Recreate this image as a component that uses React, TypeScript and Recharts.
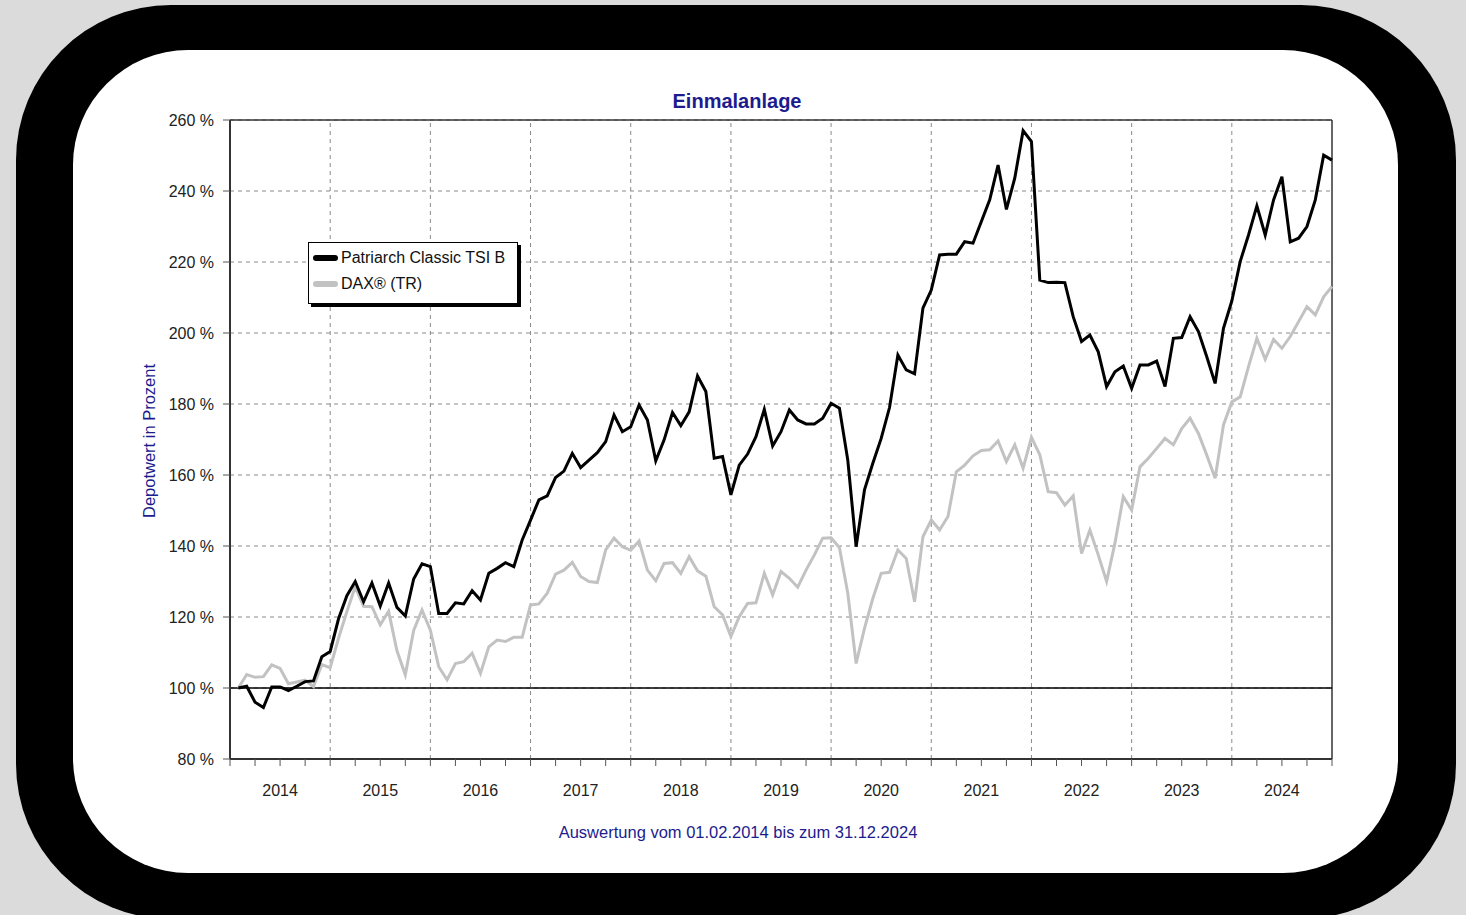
import { LineChart, Line, XAxis, YAxis, CartesianGrid, ReferenceLine } from 'recharts';

// monthly values, Feb 2014 .. Jan 2025 (end of Dec 2024), in % of start
const patriarch = [
  100, 100.5, 96, 94.5, 100.3, 100.3, 99.3, 100.5, 101.8, 102, 108.8, 110.3,
  119.5, 126, 130, 124.3, 129.6, 123.1, 129.6, 122.7, 120.3, 130.7, 135, 134.2,
  121, 121, 124, 123.7, 127.4, 124.8, 132.3, 133.7, 135.3, 134.2, 141.7, 147.3,
  153, 154.1, 159.3, 161.1, 166.1, 162.1, 164.2, 166.3, 169.4, 176.9, 172.2, 173.6,
  179.7, 175.5, 164, 169.9, 177.6, 173.9, 177.8, 187.9, 183.5, 164.7, 165.2, 154.4,
  162.8, 165.9, 170.8, 178.5, 168.2, 172.2, 178.3, 175.5, 174.4, 174.4, 176, 180.2,
  178.8, 164.2, 139.8, 155.8, 163.3, 170.3, 179, 193.8, 189.6, 188.5, 207, 212.1,
  222, 222.2, 222.2, 225.7, 225.3, 231.4, 237.5, 247.3, 234.8, 243.6, 257, 253.9,
  214.9, 214.2, 214.3, 214.2, 204.6, 197.6, 199.4, 194.7, 184.9, 189.1, 190.7, 184.4,
  191, 191, 192.1, 184.9, 198.5, 198.7, 204.6, 200.4, 193.3, 185.8, 201.3, 209,
  220.1, 227.6, 235.8, 227.6, 237.5, 244, 225.7, 226.7, 230, 237.5, 250.1, 248.7,
];

const dax = [
  100, 103.8, 103, 103.2, 106.5, 105.5, 101.2, 101.7, 102.2, 100.4, 106.6, 105.7,
  114, 121.5, 128.5, 123, 122.9, 117.8, 121.6, 110.5, 103.7, 116.2, 122, 116.3,
  106, 102.3, 106.9, 107.4, 109.8, 104.1, 111.6, 113.5, 113.1, 114.3, 114.3, 123.4,
  123.7, 126.7, 132.1, 133.2, 135.4, 131.4, 130, 129.7, 138.9, 142.2, 139.8, 138.8,
  141.4, 133.2, 130.2, 135.1, 135.3, 132.3, 137, 133, 131.5, 122.9, 120.6, 114.5,
  120.1, 123.8, 124, 132.3, 126.2, 132.8, 130.9, 128.4, 133.2, 137.5, 142.2, 142.3,
  139.5, 126.7, 106.9, 116.8, 125.2, 132.3, 132.6, 138.9, 136.5, 124.3, 142.6, 147.3,
  144.5, 148.3, 160.9, 162.8, 165.4, 166.9, 167.1, 169.6, 163.8, 168.5, 161.9, 170.6,
  165.7, 155.3, 155, 151.5, 154.1, 137.9, 144.5, 137.5, 130, 140.8, 153.9, 150.1,
  162.3, 164.7, 167.5, 170.3, 168.5, 173.1, 176, 171.7, 165.6, 159.1, 174.1, 180.6,
  182, 190.5, 198.5, 192.6, 198.2, 195.7, 199, 203.2, 207.4, 205.1, 210.2, 213.1,
];

const years = ['2014', '2015', '2016', '2017', '2018', '2019', '2020', '2021', '2022', '2023', '2024'];
const yTicks = [80, 100, 120, 140, 160, 180, 200, 220, 240, 260];

const data = patriarch.map((v, i) => ({ m: i + 1, patriarch: v, dax: dax[i] }));
const lastMonth = years.length * 12;
const xTicks = Array.from({ length: years.length * 4 + 1 }, (_, i) => i * 3);
const yearBounds = years.slice(1).map((_, i) => (i + 1) * 12);

const font = '"Liberation Sans", Arial, sans-serif';
const navy = '#1c1c8e';
const grid = '#8a8a8a';

const xLabel = (m: number) => (m % 12 === 6 ? years[Math.floor(m / 12)] : '');

export default function App() {
  return (
    <div style={{ position: 'fixed', left: 0, top: 0, width: 1466, height: 915, background: '#dbdbdb', overflow: 'hidden', fontFamily: font }}>
      <div style={{ position: 'absolute', left: 16, top: 5, width: 1440, height: 914, background: '#000', borderRadius: 155 }} />
      <div style={{ position: 'absolute', left: 73, top: 50, width: 1325, height: 823, background: '#fff', borderRadius: 115 }} />

      <div style={{ position: 'absolute', left: 0, top: 0 }}>
        <LineChart width={1466} height={915} data={data} margin={{ top: 120, right: 134, bottom: 116, left: 170 }}>
          <CartesianGrid vertical={false} stroke={grid} strokeDasharray="4 4" />
          {yearBounds.map((m) => (
            <ReferenceLine key={m} x={m} stroke={grid} strokeDasharray="4 4" />
          ))}
          <ReferenceLine x={lastMonth} stroke="#333" strokeWidth={1.5} />
          <ReferenceLine y={260} stroke="#333" strokeWidth={1.5} />
          <ReferenceLine y={100} stroke="#000" strokeWidth={1.5} />
          <XAxis
            dataKey="m"
            type="number"
            domain={[0, lastMonth]}
            ticks={xTicks}
            interval={0}
            tickFormatter={xLabel}
            height={40}
            tickSize={7}
            tickMargin={19}
            axisLine={{ stroke: '#333', strokeWidth: 2 }}
            tickLine={{ stroke: '#555' }}
            tick={{ fill: '#222', fontSize: 16, fontFamily: font }}
          />
          <YAxis
            type="number"
            domain={[80, 260]}
            ticks={yTicks}
            interval={0}
            width={60}
            tickFormatter={(v: number) => `${v} %`}
            tickSize={7}
            tickMargin={9}
            axisLine={{ stroke: '#333', strokeWidth: 2 }}
            tickLine={{ stroke: '#555' }}
            tick={{ fill: '#222', fontSize: 16, fontFamily: font }}
          />
          <Line dataKey="dax" stroke="#c2c2c2" strokeWidth={3} dot={false} isAnimationActive={false} />
          <Line dataKey="patriarch" stroke="#000" strokeWidth={3} dot={false} isAnimationActive={false} />
        </LineChart>
      </div>

      <div style={{ position: 'absolute', left: 537, width: 400, top: 90, textAlign: 'center', color: navy, fontWeight: 'bold', fontSize: 20 }}>
        Einmalanlage
      </div>
      <div style={{ position: 'absolute', left: 149, top: 441, width: 0, height: 0 }}>
        <div style={{ position: 'absolute', transform: 'translate(-50%, -50%) rotate(-90deg)', whiteSpace: 'nowrap', color: navy, fontSize: 16.5 }}>
          Depotwert in Prozent
        </div>
      </div>
      <div style={{ position: 'absolute', left: 438, width: 600, top: 823, textAlign: 'center', color: navy, fontSize: 16.5 }}>
        Auswertung vom 01.02.2014 bis zum 31.12.2024
      </div>

      <div style={{ position: 'absolute', left: 308, top: 242, width: 208, height: 60, background: '#fff', border: '1px solid #000', boxShadow: '3px 3px 0 #000' }}>
        {[
          { name: 'Patriarch Classic TSI B', color: '#000' },
          { name: 'DAX® (TR)', color: '#c2c2c2' },
        ].map((s, i) => (
          <div key={s.name} style={{ position: 'absolute', left: 4, top: 5 + i * 26, height: 20, display: 'flex', alignItems: 'center', fontSize: 16, color: '#111' }}>
            <span style={{ display: 'inline-block', width: 25, height: 6, borderRadius: 3, background: s.color, marginRight: 3 }} />
            {s.name}
          </div>
        ))}
      </div>
    </div>
  );
}
